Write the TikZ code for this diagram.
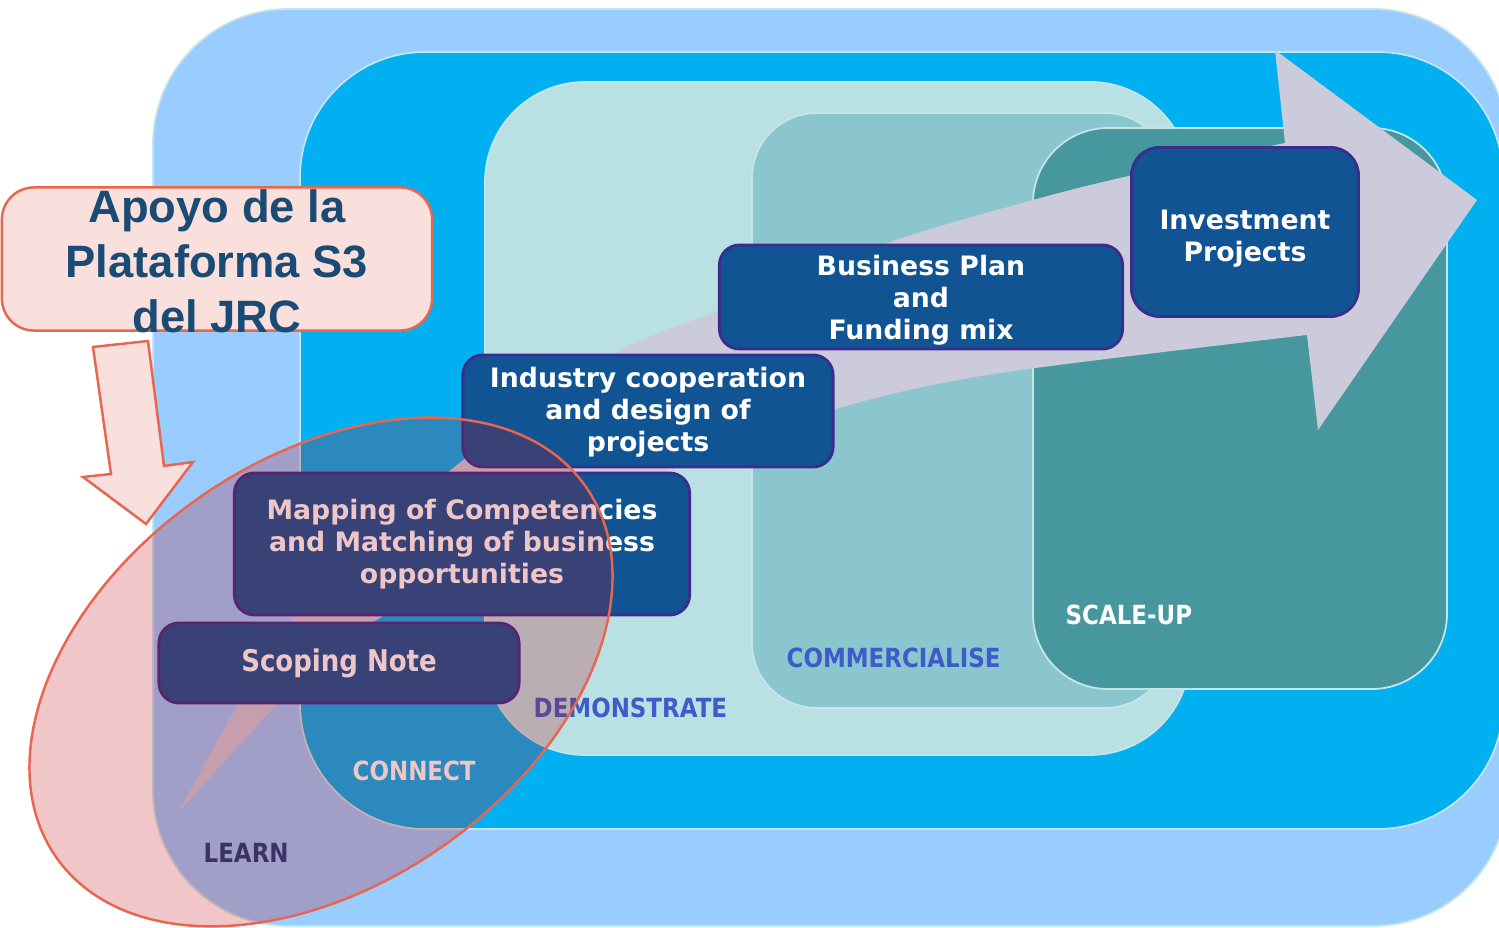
\documentclass[tikz,border=0pt]{standalone}
\usepackage{fontspec}
\setmainfont{DejaVu Sans}
\newfontfamily\titlefont{Liberation Sans}
\newfontfamily\lblfont[FakeStretch=0.87]{DejaVu Sans}
\usetikzlibrary{shapes.geometric}
\definecolor{learnc}{HTML}{99CCFF}
\definecolor{connectc}{HTML}{00B0F0}
\definecolor{democ}{HTML}{B9E0E3}
\definecolor{commc}{HTML}{8BC6CF}
\definecolor{scalec}{HTML}{46979E}
\definecolor{rimc}{HTML}{C4E6E8}
\definecolor{boxc}{HTML}{105494}
\definecolor{boxrim}{HTML}{3B2C8E}
\definecolor{flowc}{HTML}{CBCBDC}
\definecolor{jrcfill}{HTML}{F9E0DC}
\definecolor{jrcrim}{HTML}{E8664F}
\definecolor{jrctext}{HTML}{1A4B74}
\definecolor{focusc}{RGB}{190,10,20}
\definecolor{lblblue}{HTML}{3D5BC9}
\definecolor{lblnavy}{HTML}{12407F}
\begin{document}
\begin{tikzpicture}[x=0.01cm,y=-0.01cm]
\tikzset{
base/.style={draw=boxrim,line width=0.8pt,fill=boxc,text=white,rounded corners=0.2cm,align=center,inner ysep=1pt,font=\bfseries\fontsize{7.6}{9.1}\selectfont},
stage/.style={draw=rimc,line width=0.5pt},
lbl/.style={font=\lblfont\bfseries\fontsize{7.5}{9}\selectfont,anchor=west,inner sep=0pt},
pinkline/.style={draw=jrcrim,line width=0.7pt}}
\useasboundingbox (0,0) rectangle (1499,928);
\clip (0,0) rectangle (1499,928);
\foreach \xa/\ya/\xb/\yb/\c/\r in {153/9/1508/926/learnc/1.35,300/52/1503/829/connectc/1.25,485/82/1190/755/democ/1.0,752/113/1170/708/commc/0.65,1033/128/1447/689/scalec/0.75}
  \draw[stage,fill=\c,rounded corners=\r cm] (\xa,\ya) rectangle (\xb,\yb);
\fill[flowc] plot[smooth,tension=0.5] coordinates {(179,812) (293,618) (447,473) (613,355) (720,310) (887,243) (1033,200) (1133,175) (1285,143)}
  -- (1275,50) -- (1477,200) -- (1318,430) -- (1307,335)
  -- plot[smooth,tension=0.5] coordinates {(1307,335) (1000,373) (850,405) (690,460) (380,618) (282,700) (179,812)} -- cycle;
\node[lbl,text=white] (scale) at (1065,615) {SCALE-UP};
\node[lbl,text=lblblue] (comm) at (786,658) {COMMERCIALISE};
\node[lbl,text=lblblue] (demo) at (533,708) {DEMONSTRATE};
\node[lbl,text=white] (conn) at (352,771) {CONNECT};
\node[lbl,text=lblnavy] (learn) at (203,853) {LEARN};
\node[base,minimum width=3.6cm,minimum height=0.8cm,font=\lblfont\bfseries\fontsize{8.5}{10}\selectfont] (scoping) at (339,663) {Scoping Note};
\node[base,minimum width=4.55cm,minimum height=1.42cm] (mapping) at (462,544) {Mapping of Competencies\\and Matching of business\\opportunities};
\node[base,minimum width=3.7cm,minimum height=1.12cm] (industry) at (648,411) {\rule{0pt}{6.5pt}Industry cooperation\\and design of\\projects};
\node[base,minimum width=4.03cm,minimum height=1.04cm] (bplan) at (921,297) {\rule{0pt}{7.5pt}Business Plan\\and\\Funding mix};
\node[base,minimum width=2.27cm,minimum height=1.69cm,rounded corners=0.28cm] (invest) at (1245,232) {\rule{0pt}{9.2pt}Investment\\Projects};
\node[ellipse,pinkline,fill=focusc,fill opacity=0.23,minimum width=6.46cm,minimum height=4.25cm,inner sep=0pt,rotate=35] (focus) at (321,672) {};
\node[pinkline,fill=jrcfill,rounded corners=0.32cm,minimum width=4.3cm,minimum height=1.43cm] (jrcbox) at (217,259) {};
\node[text=jrctext,font=\titlefont\bfseries\fontsize{12.9}{15.6}\selectfont,align=center] (jrc) at (217,261) {Apoyo de la\\Plataforma S3\\del JRC};
\draw[pinkline,fill=jrcfill] (93,347) -- (148,341) -- (164,466) -- (193,462) -- (146,524) -- (83,477) -- (111,474) -- cycle;
\end{tikzpicture}
\end{document}
